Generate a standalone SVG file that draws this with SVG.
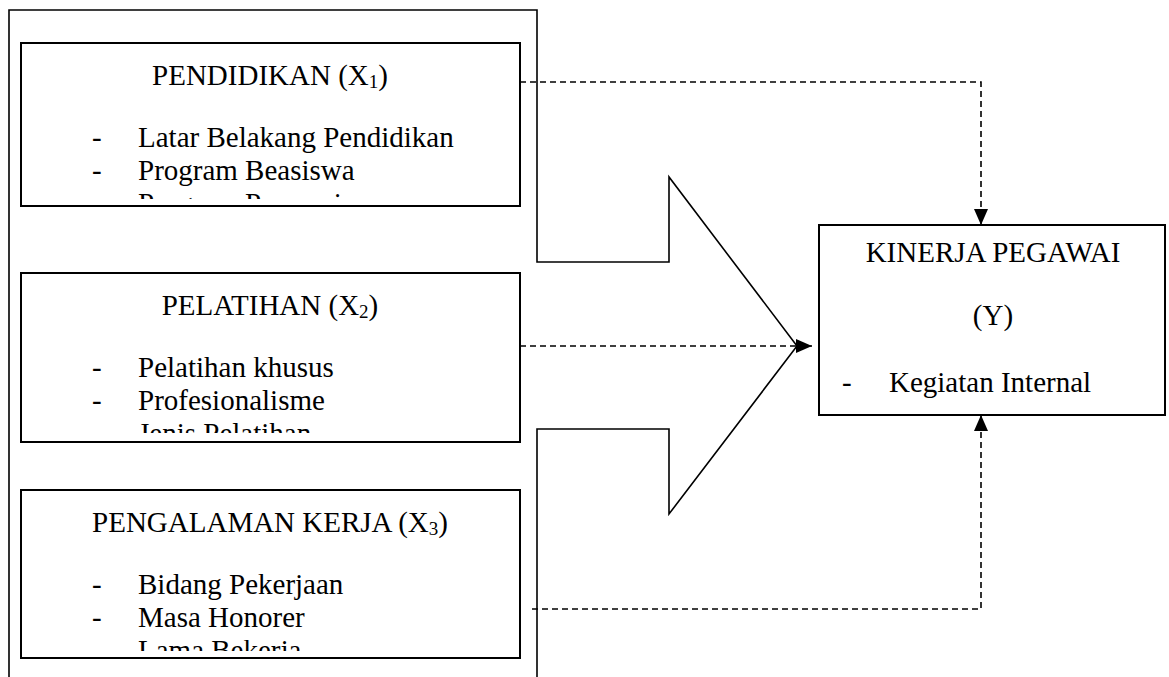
<svg xmlns="http://www.w3.org/2000/svg" width="1169" height="677" viewBox="0 0 1169 677">
<style>
  .frame{fill:none;stroke:#000;stroke-width:1.6}
  .box{fill:#fff;stroke:#000;stroke-width:2}
  .t{font-family:"Liberation Serif","Times New Roman",serif;font-size:29px;fill:#000}
  .c{text-anchor:middle}
  .dash{fill:none;stroke:#000;stroke-width:1.6;stroke-dasharray:6 4}
</style>
<defs>
  <marker id="ah" viewBox="0 0 16 14" refX="16" refY="7" markerWidth="16" markerHeight="14" markerUnits="userSpaceOnUse" orient="auto">
    <path d="M0,0 L16,7 L0,14 Z" fill="#000"/>
  </marker>
  <clipPath id="clip1"><rect x="22" y="44" width="497" height="155"/></clipPath>
  <clipPath id="clip2"><rect x="22" y="274" width="497" height="159"/></clipPath>
  <clipPath id="clip3"><rect x="22" y="491" width="497" height="160"/></clipPath>
</defs>
<rect width="1169" height="677" fill="#fff"/>

<g id="frame-arrow">
  <path class="frame" d="M9,680 L9,10 L537,10 L537,262 L669,262 L669,177 L797,346 L669,514 L669,429 L537,429 L537,680"/>
</g>

<g id="node-pendidikan">
  <rect class="box" x="21" y="43" width="499" height="163"/>
  <text class="t c" x="270" y="85">PENDIDIKAN (X<tspan font-size="19" dy="3">1</tspan><tspan dy="-3">)</tspan></text>
  <g clip-path="url(#clip1)">
    <text class="t" x="92" y="147">-</text><text class="t" x="138" y="147">Latar Belakang Pendidikan</text>
    <text class="t" x="92" y="180">-</text><text class="t" x="138" y="180">Program Beasiswa</text>
    <text class="t" x="92" y="213">-</text><text class="t" x="138" y="213">Program Promosi</text>
  </g>
</g>

<g id="node-pelatihan">
  <rect class="box" x="21" y="273" width="499" height="169"/>
  <text class="t c" x="270" y="315">PELATIHAN (X<tspan font-size="19" dy="3">2</tspan><tspan dy="-3">)</tspan></text>
  <g clip-path="url(#clip2)">
    <text class="t" x="92" y="377">-</text><text class="t" x="138" y="377">Pelatihan khusus</text>
    <text class="t" x="92" y="410">-</text><text class="t" x="138" y="410">Profesionalisme</text>
    <text class="t" x="92" y="443">-</text><text class="t" x="138" y="443">Jenis Pelatihan</text>
  </g>
</g>

<g id="node-pengalaman">
  <rect class="box" x="21" y="490" width="499" height="168"/>
  <text class="t c" x="270" y="532">PENGALAMAN KERJA (X<tspan font-size="19" dy="3">3</tspan><tspan dy="-3">)</tspan></text>
  <g clip-path="url(#clip3)">
    <text class="t" x="92" y="594">-</text><text class="t" x="138" y="594">Bidang Pekerjaan</text>
    <text class="t" x="92" y="627">-</text><text class="t" x="138" y="627">Masa Honorer</text>
    <text class="t" x="92" y="660">-</text><text class="t" x="138" y="660">Lama Bekerja</text>
  </g>
</g>

<g id="node-kinerja">
  <rect class="box" x="819" y="225" width="346" height="190"/>
  <text class="t c" x="993" y="262">KINERJA PEGAWAI</text>
  <text class="t c" x="993" y="325">(Y)</text>
  <text class="t" x="842" y="392">-</text><text class="t" x="889" y="392">Kegiatan Internal</text>
</g>

<g id="connectors">
  <path class="dash" d="M520,82 L981,82 L981,225" marker-end="url(#ah)"/>
  <path class="dash" d="M520,346 L812,346" marker-end="url(#ah)"/>
  <path class="dash" d="M532,609 L981,609 L981,415" marker-end="url(#ah)"/>
</g>
</svg>
